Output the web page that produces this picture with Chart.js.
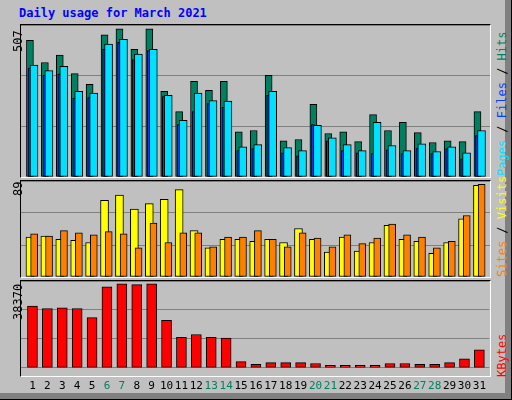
<!DOCTYPE html>
<html>
<head>
<meta charset="utf-8">
<script src="https://cdn.jsdelivr.net/npm/chart.js@4"></script>
<style>
  body { margin: 0; background: #fff; }
  #frame { position: absolute; left: 0; top: 0; width: 505px; height: 393px; background: #c0c0c0;
           border-right: 6px solid #808080; border-bottom: 6px solid #808080; outline: 1px solid #000; }
  .panel { position: absolute; left: 20px; width: 471px; border-top: 1px solid #000; border-left: 1px solid #000;
           border-right: 1px solid #fff; border-bottom: 1px solid #fff; box-sizing: border-box; }
  canvas { position: absolute; }
  .txt { position: absolute; font-family: "DejaVu Sans Mono", monospace; font-size: 12px; white-space: nowrap; }
  .rot { transform-origin: left top; transform: rotate(-90deg); }
</style>
</head>
<body>
<div id="frame"></div>
<div class="txt" style="left:19px;top:6px;color:#0000ff;font-weight:bold">Daily usage for March 2021</div>
<div class="panel" style="top:24px;height:154px"></div>
<div class="panel" style="top:180px;height:98px"></div>
<div class="panel" style="top:280px;height:97px"></div>
<canvas id="c1" style="left:21px;top:25px;width:469px;height:152px"></canvas>
<canvas id="c2" style="left:21px;top:181px;width:469px;height:96px"></canvas>
<canvas id="c3" style="left:21px;top:281px;width:469px;height:116px"></canvas>
<div class="txt rot" style="left:11px;top:52px">507</div>
<div class="txt rot" style="left:11px;top:196px">89</div>
<div class="txt rot" style="left:11px;top:320px">38370</div>
<div class="txt rot" style="left:495px;top:176px"><span style="color:#00e0ff">Pages</span> / <span style="color:#0040ff">Files</span> / <span style="color:#008060">Hits</span></div>
<div class="txt rot" style="left:495px;top:277px"><span style="color:#ff8000">Sites</span> / <span style="color:#ffff00">Visits</span></div>
<div class="txt rot" style="left:495px;top:377px;color:#ff0000">KBytes</div>
<script>
const days = Array.from({length: 31}, (_, i) => i + 1);
const weekends = [6, 7, 13, 14, 20, 21, 27, 28];
const hits  = [456,382,407,345,309,474,494,426,494,286,218,319,289,319,151,155,339,121,125,242,145,151,118,208,155,182,148,115,121,118,218];
const files = [363,339,343,262,265,427,449,392,422,268,175,218,245,232,88,95,272,81,71,175,121,88,81,78,91,78,95,78,95,61,138];
const pages = [373,355,369,286,280,443,459,410,426,272,189,280,255,253,101,108,286,98,88,172,131,108,88,182,105,88,111,85,101,81,155];
const visits = [37,38,35,34,32,71,76,63,68,72,81,43,27,35,35,33,35,32,45,35,23,37,24,32,48,35,33,22,32,54,85];
const sites  = [40,38,43,41,39,42,40,27,50,32,41,41,28,37,37,43,35,28,41,36,28,39,31,36,49,39,37,27,33,57,86];
const kbytes = [27290,26210,26480,26210,22160,35800,37150,36750,37150,20940,13510,14730,13510,13100,2700,1490,2300,2300,2300,1890,1080,1080,1080,1080,1890,1890,1490,1490,2300,3920,7970];

function ds(values, off, color, width, order) {
  return {
    data: values.map((v, i) => ({x: days[i] + off, y: v})),
    backgroundColor: color, borderColor: '#000', borderWidth: 1,
    barThickness: width, grouped: false, order: order, borderSkipped: false
  };
}

function makeChart(id, datasets, max, showX) {
  new Chart(document.getElementById(id), {
    type: 'bar',
    data: {datasets: datasets},
    options: {
      responsive: false, animation: false, devicePixelRatio: 1,
      layout: {padding: 0},
      plugins: {legend: {display: false}, tooltip: {enabled: false}},
      scales: {
        x: {
          type: 'linear', min: 0.23, max: 31.67, offset: false,
          display: showX,
          grid: {display: false}, border: {display: false},
          afterBuildTicks: s => { s.ticks = days.map(d => ({value: d})); },
          ticks: {
            autoSkip: false, maxRotation: 0, padding: 4,
            font: {family: 'DejaVu Sans Mono', size: 11},
            color: c => weekends.includes(days[c.index]) ? '#008060' : '#000',
            callback: v => String(v)
          }
        },
        y: {
          min: 0, max: max,
          afterBuildTicks: s => { s.ticks = [0, 1, 2, 3].map(k => ({value: max * k / 3})); },
          ticks: {display: false},
          grid: {color: '#808080', lineWidth: 1, drawTicks: false},
          border: {display: false}
        }
      }
    }
  });
}

document.getElementById('c1').width = 469; document.getElementById('c1').height = 152;
document.getElementById('c2').width = 469; document.getElementById('c2').height = 96;
document.getElementById('c3').width = 469; document.getElementById('c3').height = 116;

makeChart('c1', [
  ds(hits, -0.17, '#008060', 7, 3),
  ds(files, -0.2, '#0040ff', 3, 2),
  ds(pages, 0.1, '#00e0ff', 8, 1)
], 507, false);
makeChart('c2', [
  ds(visits, -0.17, '#ffff00', 8, 2),
  ds(sites, 0.11, '#ff8000', 7, 1)
], 89, false);
makeChart('c3', [
  ds(kbytes, 0, '#ff0000', 10, 1)
], 38370, true);
</script>
</body>
</html>
